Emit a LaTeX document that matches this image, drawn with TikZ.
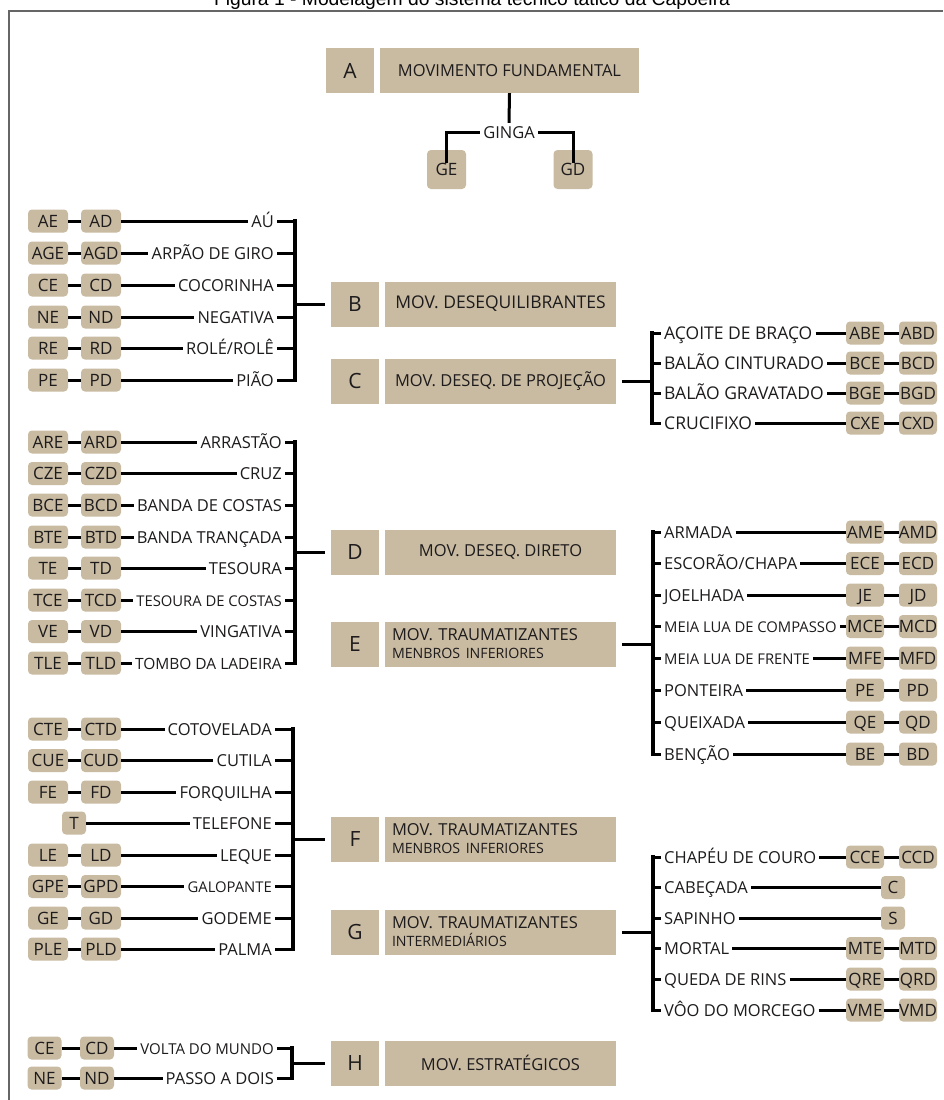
\documentclass[tikz,border=0pt]{standalone}
\usepackage{fontspec}
\setmainfont{Open Sans}
\newfontfamily\titlefont{Liberation Sans}
\usepackage{tikz}
\usetikzlibrary{positioning}
\definecolor{boxtan}{RGB}{200,187,162}
\definecolor{inkgray}{RGB}{30,27,28}
\newcommand{\movfont}{\fontsize{16.5}{18}\selectfont}
\newcommand{\movbig}{\fontsize{17.5}{19}\selectfont}
\newcommand{\movmid}{\fontsize{15.5}{17}\selectfont}
\newcommand{\movsmall}{\fontsize{14.8}{16}\selectfont}
\newcommand{\tagfont}{\fontsize{17}{19}\selectfont}
\newcommand{\letterfont}{\fontsize{21}{24}\selectfont}
\newcommand{\boxsub}{\fontsize{14.2}{16}\selectfont}
\newcommand{\movleft}[7]{%
  \node[tag] (#1l) at (48,#2) {#3};%
  \node[tag] (#1r) at (101,#2) {#4};%
  \node[move, anchor = east] (#1t) at (#6,#2) {#5};%
  \draw[link] (#1l) -- (#1r);%
  \draw[link] (#1r) -- (#1t);%
  \draw[link] (#1t.east) -- (#1t.east -| #7);%
}
\newcommand{\movleftone}[6]{%
  \node[tag, minimum width = 24pt] (#1l) at (74,#2) {#3};%
  \node[move, anchor = east] (#1t) at (#5,#2) {#4};%
  \draw[link] (#1l) -- (#1t);%
  \draw[link] (#1t.east) -- (#1t.east -| #6);%
}
\newcommand{\movright}[6]{%
  \node[move, anchor = west] (#1t) at (661,#2) {#3};%
  \node[tag, minimum width = 38pt] (#1l) at (865,#2) {#4};%
  \node[tag, minimum width = 38pt] (#1r) at (918,#2) {#5};%
  \draw[link] (#1t) -- (#1l);%
  \draw[link] (#1l) -- (#1r);%
  \draw[link] (#1t.west -| #6) -- (#1t.west);%
}
\newcommand{\movrightone}[5]{%
  \node[move, anchor = west] (#1t) at (661,#2) {#3};%
  \node[tag, minimum width = 24pt] (#1l) at (893,#2) {#4};%
  \draw[link] (#1t) -- (#1l);%
  \draw[link] (#1t.west -| #5) -- (#1t.west);%
}

\begin{document}
\begin{tikzpicture}[x = 1pt, y = -1pt,
  tag/.style = {fill = boxtan, rounded corners = 4pt, minimum width = 40pt, minimum height = 23pt, inner sep = 0pt, text height = 12pt, text depth = 0pt, font = \tagfont, text = inkgray},
  move/.style = {inner xsep = 3pt, inner ysep = 0pt, text height = 12pt, text depth = 0pt, font = \movfont, text = inkgray},
  letterbox/.style = {fill = boxtan, minimum width = 48pt, minimum height = 45pt, inner sep = 0pt, font = \letterfont, text = inkgray},
  groupbox/.style = {fill = boxtan, minimum width = 231pt, minimum height = 45pt, inner sep = 0pt, font = \movfont, text = inkgray},
  link/.style = {line width = 3pt},
  brace/.style = {line width = 3.2pt, line cap = rect}]
\path[use as bounding box, fill = white] (0,0) rectangle (943,1100);
\node[anchor = base, font = \titlefont\fontsize{19.3}{22}\selectfont] (title) at (472,5.5) {Figura 1 - Modelagem do sistema técnico tático da Capoeira};
\draw[line width = 2pt, black!60] (9,1100) -- (9,10.5) -- (943,10.5);

\node[letterbox] (A) at (350,70.5) {A};
\node[groupbox, minimum width = 259pt] (Am) at (509.5,70.5) {MOVIMENTO FUNDAMENTAL};
\node[move, inner ysep = 3pt] (ginga) at (509,132) {GINGA};
\node[tag, minimum width = 39pt, minimum height = 39pt] (GE) at (446.5,169.5) {GE};
\node[tag, minimum width = 39pt, minimum height = 39pt] (GD) at (573,169.5) {GD};
\draw[link] (Am.south) -- (ginga.north);
\draw[link, shorten >= 7pt] (ginga.west) -| (GE.center);
\draw[link, shorten >= 7pt] (ginga.east) -| (GD.center);

\node[letterbox] (B) at (355,304) {B};
\node[groupbox, font = \movbig] (Bm) at (500.5,304) {MOV. DESEQUILIBRANTES};
\coordinate (bbar) at (295,304);
\movleft{b1}{221}{AE}{AD}{AÚ}{277}{bbar}
\movleft{b2}{253}{AGE}{AGD}{ARPÃO DE GIRO}{277}{bbar}
\movleft{b3}{285}{CE}{CD}{COCORINHA}{277}{bbar}
\movleft{b4}{317}{NE}{ND}{NEGATIVA}{277}{bbar}
\movleft{b5}{348}{RE}{RD}{ROLÉ/ROLÊ}{277}{bbar}
\movleft{b6}{380}{PE}{PD}{PIÃO}{277}{bbar}
\draw[brace] (b1t.east -| bbar) -- (b6t.east -| bbar);
\draw[link, shorten >= 6pt] (bbar) -- (B.west);

\node[letterbox] (C) at (355,381) {C};
\node[groupbox] (Cm) at (500.5,381) {MOV. DESEQ. DE PROJEÇÃO};
\coordinate (cbar) at (652,381);
\movright{c1}{333}{\movbig AÇOITE DE BRAÇO}{ABE}{ABD}{cbar}
\movright{c2}{363}{\movbig BALÃO CINTURADO}{BCE}{BCD}{cbar}
\movright{c3}{393}{\movbig BALÃO GRAVATADO}{BGE}{BGD}{cbar}
\movright{c4}{423}{\movbig CRUCIFIXO}{CXE}{CXD}{cbar}
\draw[brace] (c1t.west -| cbar) -- (c4t.west -| cbar);
\draw[link, shorten <= 6pt] (Cm.east) -- (cbar);

\node[letterbox] (D) at (355,552) {D};
\node[groupbox] (Dm) at (500.5,552) {MOV. DESEQ. DIRETO};
\coordinate (dbar) at (295,552);
\movleft{d1}{442}{ARE}{ARD}{ARRASTÃO}{285}{dbar}
\movleft{d2}{473.5}{CZE}{CZD}{CRUZ}{285}{dbar}
\movleft{d3}{505}{BCE}{BCD}{BANDA DE COSTAS}{285}{dbar}
\movleft{d4}{537}{BTE}{BTD}{BANDA TRANÇADA}{285}{dbar}
\movleft{d5}{568}{TE}{TD}{TESOURA}{285}{dbar}
\movleft{d6}{600}{TCE}{TCD}{\movsmall TESOURA DE COSTAS}{285}{dbar}
\movleft{d7}{631.5}{VE}{VD}{VINGATIVA}{285}{dbar}
\movleft{d8}{663}{TLE}{TLD}{\movmid TOMBO DA LADEIRA}{285}{dbar}
\draw[brace] (d1t.east -| dbar) -- (d8t.east -| dbar);
\draw[link, shorten >= 6pt] (dbar) -- (D.west);

\node[letterbox] (E) at (355,644) {E};
\node[groupbox, text width = 217pt, align = left] (Em) at (500.5,644) {MOV. TRAUMATIZANTES\\{\boxsub MENBROS INFERIORES}};
\coordinate (ebar) at (653,644);
\movright{e1}{532}{ARMADA}{AME}{AMD}{ebar}
\movright{e2}{563.5}{ESCORÃO/CHAPA}{ECE}{ECD}{ebar}
\movright{e3}{595}{JOELHADA}{JE}{JD}{ebar}
\movright{e4}{626.5}{\movsmall MEIA LUA DE COMPASSO}{MCE}{MCD}{ebar}
\movright{e5}{658}{\movsmall MEIA LUA DE FRENTE}{MFE}{MFD}{ebar}
\movright{e6}{690}{PONTEIRA}{PE}{PD}{ebar}
\movright{e7}{722}{QUEIXADA}{QE}{QD}{ebar}
\movright{e8}{754}{BENÇÃO}{BE}{BD}{ebar}
\draw[brace] (e1t.west -| ebar) -- (e8t.west -| ebar);
\draw[link, shorten <= 6pt] (Em.east) -- (ebar);

\node[letterbox] (F) at (355,839) {F};
\node[groupbox, text width = 217pt, align = left] (Fm) at (500.5,839) {MOV. TRAUMATIZANTES\\{\boxsub MENBROS INFERIORES}};
\coordinate (fbar) at (293,839);
\movleft{f1}{729}{CTE}{CTD}{COTOVELADA}{275}{fbar}
\movleft{f2}{760.5}{CUE}{CUD}{CUTILA}{275}{fbar}
\movleft{f3}{792}{FE}{FD}{FORQUILHA}{275}{fbar}
\movleftone{f4}{823}{T}{TELEFONE}{275}{fbar}
\movleft{f5}{855}{LE}{LD}{LEQUE}{275}{fbar}
\movleft{f6}{886.5}{GPE}{GPD}{\movsmall GALOPANTE}{275}{fbar}
\movleft{f7}{918}{GE}{GD}{GODEME}{275}{fbar}
\movleft{f8}{949}{PLE}{PLD}{PALMA}{275}{fbar}
\draw[brace] (f1t.east -| fbar) -- (f8t.east -| fbar);
\draw[link, shorten >= 6pt] (fbar) -- (F.west);

\node[letterbox] (G) at (355,932) {G};
\node[groupbox, text width = 217pt, align = left] (Gm) at (500.5,932) {MOV. TRAUMATIZANTES\\{\boxsub INTERMEDIÁRIOS}};
\coordinate (gbar) at (653,932);
\movright{g1}{857}{CHAPÉU DE COURO}{CCE}{CCD}{gbar}
\movrightone{g2}{887.5}{CABEÇADA}{C}{gbar}
\movrightone{g3}{918}{SAPINHO}{S}{gbar}
\movright{g4}{948.5}{MORTAL}{MTE}{MTD}{gbar}
\movright{g5}{979}{QUEDA DE RINS}{QRE}{QRD}{gbar}
\movright{g6}{1010}{VÔO DO MORCEGO}{VME}{VMD}{gbar}
\draw[brace] (g1t.west -| gbar) -- (g6t.west -| gbar);
\draw[link, shorten <= 6pt] (Gm.east) -- (gbar);

\node[letterbox] (H) at (355,1063) {H};
\node[groupbox] (Hm) at (500.5,1063) {MOV. ESTRATÉGICOS};
\coordinate (hbar) at (292,1063);
\node[tag, minimum width = 34pt] (h1l) at (44.5,1048) {CE};
\node[tag, minimum width = 34pt] (h1r) at (97,1048) {CD};
\node[move, anchor = east, font = \fontsize{15}{17}\selectfont] (h1t) at (277,1048) {VOLTA DO MUNDO};
\node[tag, minimum width = 34pt] (h2l) at (44.5,1078) {NE};
\node[tag, minimum width = 34pt] (h2r) at (97,1078) {ND};
\node[move, anchor = east] (h2t) at (277,1078) {PASSO A DOIS};
\draw[link] (h1l) -- (h1r);
\draw[link] (h1r) -- (h1t);
\draw[link] (h2l) -- (h2r);
\draw[link] (h2r) -- (h2t);
\draw[link] (h1t.east) -- (h1t.east -| hbar);
\draw[link] (h2t.east) -- (h2t.east -| hbar);
\draw[brace] (h1t.east -| hbar) -- (h2t.east -| hbar);
\draw[link, shorten >= 6pt] (hbar) -- (H.west);
\end{tikzpicture}
\end{document}
